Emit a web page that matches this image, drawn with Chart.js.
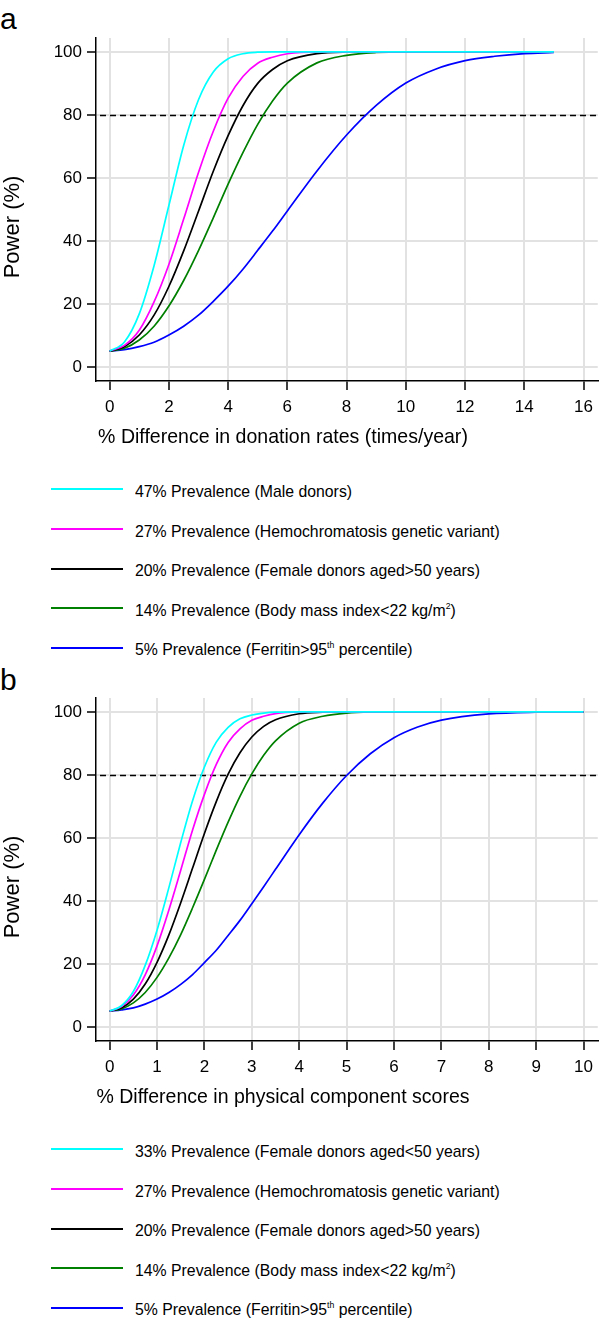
<!DOCTYPE html>
<html><head><meta charset="utf-8">
<script src="https://cdn.jsdelivr.net/npm/chart.js@4.4.0/dist/chart.umd.min.js"></script>
<style>
html,body{margin:0;padding:0;background:#fff;}
body{width:600px;height:1319px;position:relative;overflow:hidden;font-family:"Liberation Sans",Arial,Helvetica,sans-serif;color:#000;}
.abs{position:absolute;white-space:nowrap;}
canvas{position:absolute;left:0;}
.panel{font-size:30px;line-height:30px;left:0;}
.xt{font-size:21px;line-height:21px;width:600px;text-align:center;transform:scaleX(0.93);transform-origin:50% 50%;}
.yt{font-size:22px;line-height:22px;width:200px;text-align:center;transform:rotate(-90deg);}
.lg-line{position:absolute;left:51px;width:72px;height:2px;}
.lg-text{position:absolute;left:135px;font-size:17px;line-height:17px;white-space:nowrap;transform:scaleX(0.93);transform-origin:0 50%;}
sup{font-size:0.55em;line-height:0;vertical-align:0.75em;}
</style>
</head>
<body>
<div class="abs panel" style="top:4px;">a</div>
<div class="abs panel" style="top:664.6px;">b</div>
<canvas id="chartA" width="600" height="425" style="top:0px;"></canvas>
<canvas id="chartB" width="600" height="425" style="top:660px;"></canvas>
<div id="xtA" class="abs xt" style="left:-17.5px;top:424.9px;"></div>
<div id="xtB" class="abs xt" style="left:-17.5px;top:1084.9px;"></div>
<div id="ytA" class="abs yt" style="left:-88px;top:216px;"></div>
<div id="ytB" class="abs yt" style="left:-88px;top:876px;"></div>
<div id="legA"></div>
<div id="legB"></div>
<script>
// ---------- data ----------
const X_A = [0,0.5,1,1.5,2,2.5,3,3.5,4,4.5,5,5.5,6,7,8,9,10,11,12,13,14,15];
const CYAN_A    = [5,7.9,16.8,32.1,51.2,70.3,84.8,93.6,97.8,99.4,99.9,100,100,100,100,100,100,100,100,100,100,100];
const MAGENTA_A = [5,6.8,11.6,20.6,32.5,46.9,61.7,74.8,85.3,92.2,96.4,98.3,99.4,100,100,100,100,100,100,100,100,100];
const BLACK_A   = [5,6.4,10.1,16.4,25.5,36.8,49.4,62.1,73.4,82.9,90.0,94.4,97.2,99.45,99.95,100,100,100,100,100,100,100];
const GREEN_A   = [5,5.9,8.5,12.9,19.3,27.4,36.9,47.3,58.0,68.0,77.0,84.4,90.1,96.5,98.9,99.8,100,100,100,100,100,100];
const BLUE_A    = [5,5.45,6.4,7.8,10.1,12.9,16.4,20.8,25.6,31.0,37.0,43.1,49.5,62.2,73.6,83.0,90.1,94.5,97.2,98.6,99.45,99.8];

const X_B = [0,0.25,0.5,0.75,1,1.25,1.5,1.75,2,2.25,2.5,2.75,3,3.25,3.5,4,4.5,5,5.5,6,6.5,7,8,9,10];
const CYAN_B    = [5,6.7,11.2,19.5,30.7,44.2,58.5,71.8,82.5,90.4,95.1,97.8,99.0,99.6,99.9,100,100,100,100,100,100,100,100,100,100];
const MAGENTA_B = [5,6.4,10.1,16.5,25.7,37.1,49.7,62.5,73.8,83.3,90.3,94.6,97.3,98.6,99.45,99.95,100,100,100,100,100,100,100,100,100];
const BLACK_B   = [5,6.0,8.8,13.6,20.5,29.2,39.4,50.4,61.4,71.5,80.2,87.0,92.0,95.4,97.5,99.4,99.9,100,100,100,100,100,100,100,100];
const GREEN_B   = [5,5.7,7.6,10.9,15.7,21.9,29.3,37.8,46.8,56.1,65.0,73.2,80.3,86.2,90.8,96.4,98.6,99.6,99.95,100,100,100,100,100,100];
const BLUE_B    = [5,5.4,6.0,7.2,8.8,10.9,13.5,16.6,20.4,24.3,29.0,33.8,39.1,44.5,50.0,61.0,71.1,79.8,86.7,91.8,95.2,97.4,99.35,99.9,100];

const Y_TICKS   = [0,20,40,60,80,100];
const X_TICKS_A = [0,2,4,6,8,10,12,14,16];
const X_TICKS_B = [0,1,2,3,4,5,6,7,8,9,10];
const REF_POWER = 80;

const LABELS_A = ['47% Prevalence (Male donors)','27% Prevalence (Hemochromatosis genetic variant)','20% Prevalence (Female donors aged&gt;50 years)','14% Prevalence (Body mass index&lt;22 kg/m<sup>2</sup>)','5% Prevalence (Ferritin&gt;95<sup>th</sup> percentile)'];
const LABELS_B = ['33% Prevalence (Female donors aged&lt;50 years)','27% Prevalence (Hemochromatosis genetic variant)','20% Prevalence (Female donors aged&gt;50 years)','14% Prevalence (Body mass index&lt;22 kg/m<sup>2</sup>)','5% Prevalence (Ferritin&gt;95<sup>th</sup> percentile)'];
const X_TITLE_A = '% Difference in donation rates (times/year)';
const X_TITLE_B = '% Difference in physical component scores';
const Y_TITLE = 'Power (%)';

// ---------- style ----------
const COLORS = ['#00ffff','#ff00ff','#000000','#008000','#0000ff'];
const FONT = "'Liberation Sans', Arial, Helvetica, sans-serif";

const refLine = {
  id: 'refLine',
  beforeDatasetsDraw(chart) {
    const {ctx, chartArea: a, scales: {y}} = chart;
    const py = Math.round(y.getPixelForValue(REF_POWER)) + 0.5;
    ctx.save();
    ctx.setLineDash([6, 4]);
    ctx.lineWidth = 1.6;
    ctx.strokeStyle = '#000';
    ctx.beginPath();
    ctx.moveTo(a.left + 4, py);
    ctx.lineTo(a.right, py);
    ctx.stroke();
    ctx.restore();
  }
};

function makeChart(id, xs, series, labels, xMin, xMax, xTicks) {
  return new Chart(document.getElementById(id), {
    type: 'line',
    data: {
      datasets: series.map((s, i) => ({
        label: labels[i].replace(/<[^>]+>/g, ''),
        data: xs.map((x, j) => ({x: x, y: s[j]})),
        borderColor: COLORS[i],
        borderWidth: 1.7,
        pointRadius: 0,
        cubicInterpolationMode: 'monotone',
        fill: false
      }))
    },
    options: {
      responsive: false,
      animation: false,
      devicePixelRatio: 1,
      layout: {padding: {top: 38, right: 0, bottom: 0, left: 0}},
      plugins: {legend: {display: false}, tooltip: {enabled: false}},
      scales: {
        x: {
          type: 'linear', min: xMin, max: xMax,
          afterBuildTicks: s => { s.ticks = xTicks.map(v => ({value: v})); },
          afterFit: s => { s.height = 44; },
          grid: {color: '#e2e2e2', lineWidth: 2, tickColor: '#000', tickLength: 9, tickWidth: 1.5},
          border: {display: true, color: '#000', width: 1.5},
          ticks: {color: '#000', font: {family: FONT, size: 17}, padding: 7, maxRotation: 0, autoSkip: false, callback: v => String(v)}
        },
        y: {
          type: 'linear', min: -4.5, max: 104.4,
          afterBuildTicks: s => { s.ticks = Y_TICKS.map(v => ({value: v})); },
          afterFit: s => { s.width = 96; },
          grid: {color: '#e2e2e2', lineWidth: 2, tickColor: '#000', tickLength: 9, tickWidth: 1.5},
          border: {display: true, color: '#000', width: 1.5},
          ticks: {color: '#000', font: {family: FONT, size: 17}, padding: 5, autoSkip: false, callback: v => String(v)}
        }
      }
    },
    plugins: [refLine]
  });
}

makeChart('chartA', X_A, [CYAN_A, MAGENTA_A, BLACK_A, GREEN_A, BLUE_A], LABELS_A, -0.46, 16.48, X_TICKS_A);
makeChart('chartB', X_B, [CYAN_B, MAGENTA_B, BLACK_B, GREEN_B, BLUE_B], LABELS_B, -0.288, 10.3, X_TICKS_B);

document.getElementById('xtA').textContent = X_TITLE_A;
document.getElementById('xtB').textContent = X_TITLE_B;
document.getElementById('ytA').textContent = Y_TITLE;
document.getElementById('ytB').textContent = Y_TITLE;

function buildLegend(id, labels, firstY, pitch) {
  const root = document.getElementById(id);
  labels.forEach((lab, i) => {
    const ly = firstY + i * pitch;
    const line = document.createElement('div');
    line.className = 'lg-line';
    line.style.top = Math.round(ly - 1) + 'px';
    line.style.background = COLORS[i];
    root.appendChild(line);
    const t = document.createElement('div');
    t.className = 'lg-text';
    t.style.top = (ly + 8 - 0.8465 * 17) + 'px';
    t.innerHTML = lab;
    root.appendChild(t);
  });
}
buildLegend('legA', LABELS_A, 489.3, 39.6);
buildLegend('legB', LABELS_B, 1149.3, 39.6);
</script>
</body></html>
